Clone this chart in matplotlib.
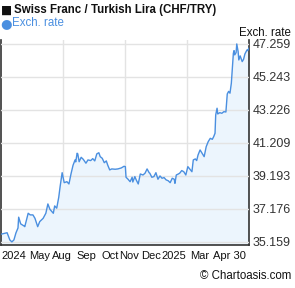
import matplotlib
matplotlib.use("Agg")
import matplotlib.pyplot as plt
import pandas as pd
import numpy as np

plt.rcParams['font.family'] = ['Liberation Sans', 'DejaVu Sans']

start_date = "2024-04-30"
days = [0, 6, 9, 13, 16, 19, 22, 25, 26, 29, 34, 35, 40, 43, 47, 50, 54, 57, 62, 66,
        69, 72, 77, 79, 82, 85, 87, 90, 93, 97, 100, 103, 106, 109, 110, 112, 113, 115, 118, 121,
        125, 128, 132, 135, 138, 141, 144, 146, 149, 152, 155, 157, 160, 163, 168, 172, 177, 181, 183, 184,
        187, 190, 193, 194, 197, 199, 202, 205, 209, 212, 215, 218, 219, 222, 225, 228, 231, 234, 237, 240,
        243, 246, 249, 252, 255, 256, 258, 261, 263, 266, 269, 272, 275, 278, 281, 283, 286, 288, 290, 293,
        296, 299, 302, 305, 308, 311, 313, 315, 316, 318, 319, 322, 325, 328, 331, 333, 335, 337, 339, 340,
        342, 343, 344, 346, 347, 349, 350, 352, 355, 357, 359, 362, 363, 365]
rates = [35.63, 35.69, 35.72, 35.28, 35.16, 35.28, 35.71, 36.01, 36.67, 36.26, 36.13, 36.09, 36.91, 36.81, 36.81, 36.60, 36.09, 36.40, 36.60, 36.91,
         37.48, 37.15, 36.91, 37.36, 37.22, 37.89, 38.54, 39.39, 38.78, 38.84, 38.70, 39.31, 39.84, 40.17, 40.05, 40.58, 40.54, 40.06, 40.33, 40.21,
         39.97, 40.17, 40.13, 40.25, 40.11, 40.54, 40.61, 40.37, 40.27, 40.00, 40.11, 39.86, 39.56, 39.62, 39.60, 39.62, 39.68, 39.78, 39.76, 39.11,
         38.99, 38.84, 39.11, 38.82, 39.15, 38.95, 38.70, 39.31, 39.25, 39.36, 39.62, 39.39, 39.36, 39.11, 39.15, 39.39, 38.99, 39.19, 39.05, 39.09,
         38.95, 38.90, 38.78, 39.05, 38.99, 38.74, 39.25, 39.31, 39.36, 39.52, 39.45, 39.25, 39.76, 39.60, 39.45, 40.17, 40.23, 40.13, 40.47, 40.78,
         40.58, 40.37, 40.98, 41.29, 41.49, 41.43, 41.59, 41.80, 42.92, 43.33, 42.98, 43.06, 43.02, 43.12, 43.10, 44.20, 44.36, 44.25, 44.86, 45.47,
         46.69, 46.85, 46.59, 46.73, 47.259, 46.79, 46.28, 46.53, 46.18, 46.32, 46.65, 46.89, 46.85, 47.00]

y_ticks = [35.159, 37.176, 39.193, 41.209, 43.226, 45.243, 47.259]
x_labels = ["2024", "May", "Aug", "Sep", "Oct", "Nov", "Dec", "2025", "Mar", "Apr 30"]
x_label_days = [19, 57, 90, 126, 160, 188, 221, 255, 293, 336]

title = "Swiss Franc / Turkish Lira (CHF/TRY)"
legend_label = "Exch. rate"

dates = pd.Timestamp(start_date) + pd.to_timedelta(days, unit="D")
label_dates = pd.Timestamp(start_date) + pd.to_timedelta(x_label_days, unit="D")

W, H = 295, 288
fig = plt.figure(figsize=(W / 100, H / 100), dpi=100)
ax = fig.add_axes([1 / W, 1 - 245 / H, 248 / W, 205 / H])

line_color = "#4a8fe0"
fill_color = "#ecf5fd"

ax.fill_between(dates, rates, 0, color=fill_color, zorder=2, linewidth=0)
ax.plot(dates, rates, color=line_color, linewidth=1.0, zorder=3)

ax.set_xlim(pd.Timestamp(start_date), pd.Timestamp(start_date) + pd.Timedelta(days=365))
ax.set_ylim(34.97, 47.50)

ax.set_yticks(y_ticks)
ax.set_yticklabels([f"{v:.3f}" for v in y_ticks])
ax.yaxis.tick_right()
ax.tick_params(axis="y", length=0, pad=2.5, labelsize=9, labelcolor="#333333")
ax.grid(axis="y", color="#e3e3e3", linewidth=1, zorder=1)

# vertical quarter gridlines
for frac in [0.25, 0.5, 0.75]:
    ax.axvline(pd.Timestamp(start_date) + pd.Timedelta(days=365 * frac), color="#e3e3e3", linewidth=1, zorder=1)

ax.set_xticks(label_dates)
ax.set_xticklabels(x_labels)
ax.tick_params(axis="x", length=0, pad=4, labelsize=8, labelcolor="#111111")

for side in ["left", "right", "bottom"]:
    ax.spines[side].set_color("#333333")
    ax.spines[side].set_linewidth(1.2)
ax.spines["top"].set_visible(False)
ax.set_axisbelow(False)

# title and legend
fig.text(1 / W, 1 - 10 / H, "\u25a0", fontsize=8.5, color="#111111", va="center", ha="left", family="DejaVu Sans")
fig.text(14 / W, 1 - 10 / H, title, fontsize=8.3, fontweight="bold", color="#111111", va="center", ha="left")
fig.text(0.5 / W, 1 - 23.5 / H, "\u25cf", fontsize=9.5, color=line_color, va="center", ha="left", family="DejaVu Sans")
fig.text(12 / W, 1 - 23.5 / H, legend_label, fontsize=8.3, color=line_color, va="center", ha="left")
fig.text(291 / W, 1 - 33 / H, legend_label, fontsize=8.3, color="#111111", va="center", ha="right")
fig.text(291 / W, 1 - 276 / H, "\u00a9 Chartoasis.com", fontsize=8.3, color="#111111", va="center", ha="right")

fig.savefig("out.png", dpi=100)
